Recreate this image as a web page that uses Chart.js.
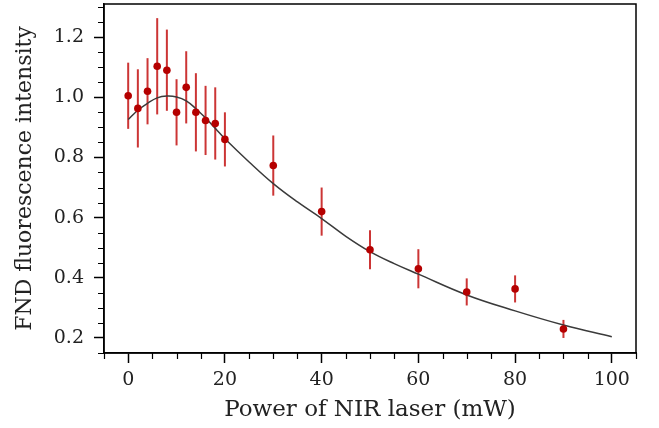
<!DOCTYPE html>
<html>
<head>
<meta charset="utf-8">
<script src="https://cdn.jsdelivr.net/npm/chart.js@4"></script>
<style>
  html, body { margin: 0; padding: 0; background: #fff; }
  #wrap { width: 659px; height: 428px; }
</style>
</head>
<body>
<div id="wrap"><canvas id="fnd"></canvas></div>
<script>
// measured points (power in mW, normalised intensity, error)
const power = [0, 2, 4, 6, 8, 10, 12, 14, 16, 18, 20, 30, 40, 50, 60, 70, 80, 90];
const intensity = [1.005, 0.963, 1.02, 1.103, 1.09, 0.95, 1.033, 0.95, 0.923, 0.913, 0.86, 0.773, 0.62, 0.493, 0.43, 0.353, 0.363, 0.23];
const errors = [0.11, 0.13, 0.11, 0.16, 0.135, 0.11, 0.12, 0.13, 0.115, 0.12, 0.09, 0.10, 0.08, 0.065, 0.065, 0.045, 0.045, 0.03];

// fitted curve
const fitPower = [0, 2, 4, 6, 8, 10, 12, 14, 16, 18, 20, 25, 30, 35, 40, 45, 50, 55, 60, 70, 80, 90, 100];
const fitIntensity = [0.926, 0.957, 0.98, 0.998, 1.004, 1.001, 0.988, 0.962, 0.931, 0.897, 0.862, 0.785, 0.713, 0.652, 0.597, 0.538, 0.487, 0.447, 0.412, 0.343, 0.29, 0.243, 0.204];

const xTicks = [0, 20, 40, 60, 80, 100];
const yTicks = [0.2, 0.4, 0.6, 0.8, 1.0, 1.2];

Chart.defaults.font.family = "'DejaVu Serif', serif";
Chart.defaults.color = "#222";

// vertical error bars, drawn under the markers
const errorBars = {
  id: "errorBars",
  beforeDatasetsDraw(chart) {
    const { ctx, scales: { x, y } } = chart;
    ctx.save();
    ctx.strokeStyle = "#cc3535";
    ctx.lineWidth = 2;
    power.forEach((p, i) => {
      const px = x.getPixelForValue(p);
      ctx.beginPath();
      ctx.moveTo(px, y.getPixelForValue(intensity[i] - errors[i]));
      ctx.lineTo(px, y.getPixelForValue(intensity[i] + errors[i]));
      ctx.stroke();
    });
    ctx.restore();
  }
};

// frame round the plot and minor ticks
const frame = {
  id: "frame",
  afterDraw(chart) {
    const { ctx, chartArea: a, scales: { x, y } } = chart;
    ctx.save();
    ctx.strokeStyle = "#000";
    ctx.lineWidth = 1.5;
    ctx.strokeRect(a.left, a.top, a.right - a.left, a.bottom - a.top);
    ctx.lineWidth = 1.2;
    ctx.beginPath();
    for (let v = -5; v <= 105; v += 5) {
      if (v % 20 === 0) continue;
      const px = Math.round(x.getPixelForValue(v)) + 0.5;
      ctx.moveTo(px, a.bottom);
      ctx.lineTo(px, a.bottom + 6);
    }
    for (let k = 3; k <= 26; k++) {
      if (k % 4 === 0) continue;
      const py = Math.round(y.getPixelForValue(k * 0.05)) + 0.5;
      ctx.moveTo(a.left, py);
      ctx.lineTo(a.left - 6, py);
    }
    ctx.stroke();
    ctx.restore();
  }
};

new Chart(document.getElementById("fnd"), {
  type: "scatter",
  data: {
    datasets: [
      {
        type: "scatter",
        data: power.map((p, i) => ({ x: p, y: intensity[i] })),
        pointRadius: 3.8,
        pointBackgroundColor: "#b50000",
        pointBorderWidth: 0,
        order: 0
      },
      {
        type: "line",
        data: fitPower.map((p, i) => ({ x: p, y: fitIntensity[i] })),
        borderColor: "#3a3a3a",
        borderWidth: 1.5,
        pointRadius: 0,
        tension: 0.4,
        fill: false,
        order: 1
      }
    ]
  },
  options: {
    responsive: true,
    maintainAspectRatio: false,
    animation: false,
    layout: { padding: { top: 4, right: 23, left: 0, bottom: 0 } },
    plugins: { legend: { display: false }, tooltip: { enabled: false } },
    scales: {
      x: {
        type: "linear",
        min: -5,
        max: 105,
        afterFit: s => { s.height = 75; s.paddingLeft = 0; s.paddingRight = 0; },
        afterBuildTicks: s => { s.ticks = xTicks.map(v => ({ value: v })); },
        ticks: { font: { size: 19 }, padding: 6, color: "#222", maxRotation: 0 },
        grid: { drawOnChartArea: false, tickLength: 10, tickWidth: 1.5, tickColor: "#000" },
        border: { display: true, color: "#000", width: 1.5 },
        title: { display: true, text: "Power of NIR laser (mW)", font: { size: 23 }, color: "#222", padding: { top: 0 } }
      },
      y: {
        type: "linear",
        min: 0.15,
        max: 1.31,
        afterFit: s => { s.width = 104; s.paddingTop = 0; s.paddingBottom = 0; },
        afterBuildTicks: s => { s.ticks = yTicks.map(v => ({ value: v })); },
        ticks: { font: { size: 19 }, padding: 10, color: "#222", callback: v => v.toFixed(1) },
        grid: { drawOnChartArea: false, tickLength: 10, tickWidth: 1.5, tickColor: "#000" },
        border: { display: true, color: "#000", width: 1.5 },
        title: { display: true, text: "FND fluorescence intensity", font: { size: 22 }, color: "#222", padding: { top: 12, bottom: 0 } }
      }
    }
  },
  plugins: [errorBars, frame]
});
</script>
</body>
</html>
